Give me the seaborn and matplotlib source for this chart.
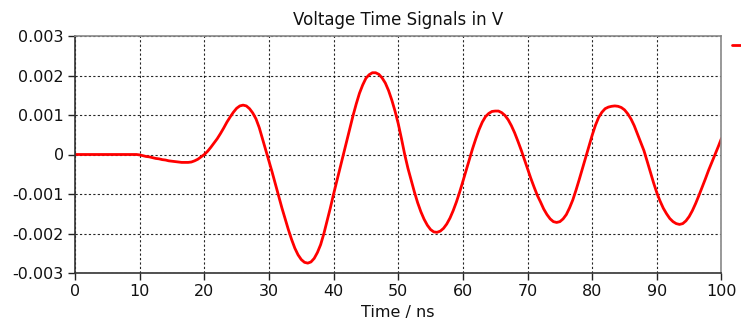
import matplotlib
matplotlib.use("Agg")
import matplotlib.pyplot as plt
import matplotlib.ticker as mticker
import seaborn as sns
import pandas as pd

# ---- data, one sample every 0.5 ns ----
time_ns = [i * 0.5 for i in range(0, 201)]
voltage_v = [
    # 0 - 9.5
    0.0, 0.0, 0.0, 0.0, 0.0, 0.0, 0.0, 0.0, 0.0, 0.0,
    0.0, 0.0, 0.0, 0.0, 0.0, 0.0, 0.0, 0.0, 0.0, 0.0,
    # 10 - 19.5
    -0.00001, -0.00003, -0.00005, -0.00006, -0.00008, -0.0001, -0.00011, -0.00013, -0.00014, -0.00016,
    -0.00017, -0.00018, -0.00019, -0.0002, -0.0002, -0.0002, -0.00019, -0.00016, -0.00012, -0.00006,
    # 20 - 29.5
    0.0, 0.00008, 0.00018, 0.00029, 0.0004, 0.00053, 0.00067, 0.00082, 0.00095, 0.00107,
    0.00117, 0.00123, 0.00125, 0.00123, 0.00116, 0.00105, 0.0009, 0.00068, 0.0004, 0.00012,
    # 30 - 39.5
    -0.00015, -0.00045, -0.00075, -0.00105, -0.00135, -0.00163, -0.0019, -0.00215, -0.00237, -0.00254,
    -0.00266, -0.00273, -0.00275, -0.00272, -0.00263, -0.00248, -0.00228, -0.002, -0.00168, -0.00135,
    # 40 - 49.5
    -0.001, -0.00067, -0.00034, 0.0, 0.00033, 0.00066, 0.00098, 0.00128, 0.00155, 0.00176,
    0.00193, 0.00202, 0.00207, 0.00207, 0.00203, 0.00194, 0.00181, 0.00162, 0.00138, 0.0011,
    # 50 - 59.5
    0.00078, 0.0004, 0.0, -0.00035, -0.00065, -0.00095, -0.00122, -0.00145, -0.00164, -0.00179,
    -0.0019, -0.00196, -0.00197, -0.00194, -0.00187, -0.00176, -0.00161, -0.00142, -0.0012, -0.00095,
    # 60 - 69.5
    -0.00068, -0.0004, -0.00012, 0.00015, 0.0004, 0.00063, 0.00082, 0.00096, 0.00104, 0.00109,
    0.0011, 0.0011, 0.00106, 0.00099, 0.00088, 0.00073, 0.00055, 0.00034, 0.00012, -0.00012,
    # 70 - 79.5
    -0.00036, -0.0006, -0.00082, -0.00103, -0.0012, -0.00138, -0.00152, -0.00163, -0.0017, -0.00172,
    -0.0017, -0.00163, -0.00152, -0.00135, -0.00115, -0.0009, -0.00063, -0.00035, -0.00006, 0.00022,
    # 80 - 89.5
    0.00049, 0.00074, 0.00094, 0.00107, 0.00116, 0.0012, 0.00122, 0.00123, 0.00122, 0.00119,
    0.00113, 0.00103, 0.0009, 0.00073, 0.00052, 0.00031, 0.0001, -0.00017, -0.00045, -0.00072,
    # 90 - 99.5
    -0.00097, -0.00118, -0.00136, -0.0015, -0.00162, -0.0017, -0.00175, -0.00177, -0.00175, -0.00168,
    -0.00157, -0.00142, -0.00124, -0.00104, -0.00083, -0.00062, -0.0004, -0.0002, 0.0, 0.0002,
    # 100
    0.00041,
]
x_ticks = [0, 10, 20, 30, 40, 50, 60, 70, 80, 90, 100]
y_ticks = [-0.003, -0.002, -0.001, 0.0, 0.001, 0.002, 0.003]
title = "Voltage Time Signals in V"
x_label = "Time / ns"
series_name = " "

df = pd.DataFrame({"t": time_ns, "v": voltage_v})

sns.set_theme(style="white")
plt.rcParams["font.family"] = ["DejaVu Sans"]

fig = plt.figure(figsize=(7.41, 3.24), dpi=100)
ax = fig.add_axes([75 / 741, 51 / 324, 646.5 / 741, 237 / 324])

sns.lineplot(data=df, x="t", y="v", color="#ff0000", linewidth=2.0,
             ax=ax, label=series_name, solid_joinstyle="round")

ax.set_xlim(0, 100)
ax.set_ylim(-0.003, 0.003)
ax.set_xticks(x_ticks)
ax.set_yticks(y_ticks)
ax.yaxis.set_major_formatter(mticker.FuncFormatter(lambda v, p: "%g" % round(v, 6)))
ax.tick_params(axis="both", labelsize=11.5, colors="#222222", length=5, width=1,
               direction="out", left=True, bottom=True, pad=3)
for lab in ax.get_xticklabels() + ax.get_yticklabels():
    lab.set_color("#111111")

ax.grid(True, color="#000000", linestyle=(0, (2, 2)), linewidth=0.8, alpha=0.85)
ax.set_axisbelow(True)

for side in ["left", "bottom"]:
    ax.spines[side].set_color("#333333")
    ax.spines[side].set_linewidth(1.2)
for side in ["top", "right"]:
    ax.spines[side].set_color("#888888")
    ax.spines[side].set_linewidth(1.2)

ax.set_title(title, fontsize=12, color="#111111", pad=8)
ax.set_xlabel(x_label, fontsize=11.5, color="#111111", labelpad=4)
ax.set_ylabel("")

leg = ax.legend(loc="upper left", bbox_to_anchor=(1.001, 1.028), frameon=False,
                handlelength=1.2, fontsize=10, borderaxespad=0.3)

fig.savefig("out.png", dpi=100)
